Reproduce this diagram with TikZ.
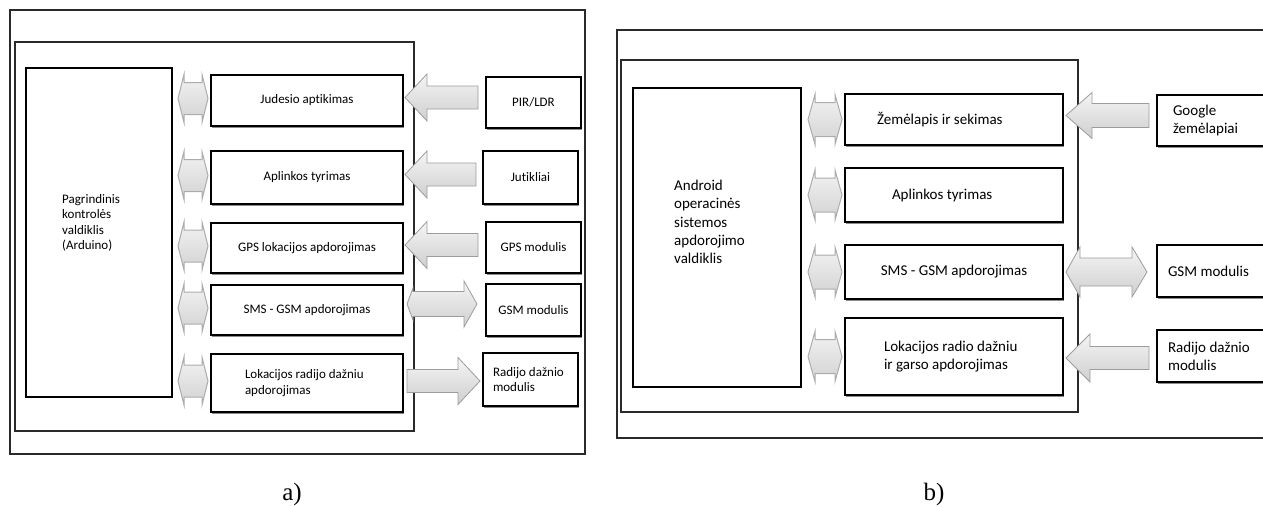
\documentclass[tikz,border=0pt]{standalone}
\usepackage{fontspec}
\setmainfont{Carlito}[Ligatures={NoCommon}]
\newfontfamily\capfont{Liberation Serif}
\usetikzlibrary{calc,shadows}

\definecolor{frame}{HTML}{2A2A2A}
\definecolor{arrowline}{HTML}{9C9C9C}

\tikzset{
  panel/.style={draw=frame, line width=2pt},
  innerpanel/.style={draw=frame, line width=1.6pt},
  ctrlbox/.style={draw=black, line width=2.2pt, inner sep=0pt, outer sep=0pt},
  boxshadow/.style={drop shadow={shadow xshift=0.8pt, shadow yshift=-1.6pt, fill=black, opacity=0.45}},
  funcbox/.style={draw=black, fill=white, line width=2.3pt, inner sep=0pt, outer sep=0pt, align=center, boxshadow},
  srcbox/.style={draw=black, fill=white, line width=2.8pt, inner sep=0pt, outer sep=0pt, align=center, boxshadow},
  fa/.style={font=\fontsize{13}{15.5}\selectfont},
  fb/.style={font=\fontsize{15}{18.3}\selectfont},
  garrow/.style={draw=arrowline, line width=0.8pt, top color=gray!8, bottom color=gray!38, line join=miter},
  linkarrow/.style={draw=gray!65, line width=1pt, top color=gray!10, bottom color=gray!35, line join=miter},
  caption/.style={font=\capfont\fontsize{25}{28}\selectfont, anchor=base},
}

% arrow pointing left: #1 tip point, #2 tail point, #3 head length, #4 head half height, #5 shaft half height
\newcommand{\arrowToLeft}[5]{%
  \path[garrow] let \p1=#1, \p2=#2 in
    (\x1,\y1) -- (\x1+#3pt,\y1+#4pt) -- (\x1+#3pt,\y1+#5pt) -- (\x2,\y1+#5pt)
    -- (\x2,\y1-#5pt) -- (\x1+#3pt,\y1-#5pt) -- (\x1+#3pt,\y1-#4pt) -- cycle;}
% arrow pointing right: #1 tail point, #2 tip point, #3 head length, #4 head half height, #5 shaft half height
\newcommand{\arrowToRight}[5]{%
  \path[garrow] let \p1=#1, \p2=#2 in
    (\x1,\y1+#5pt) -- (\x2-#3pt,\y1+#5pt) -- (\x2-#3pt,\y1+#4pt) -- (\x2,\y1)
    -- (\x2-#3pt,\y1-#4pt) -- (\x2-#3pt,\y1-#5pt) -- (\x1,\y1-#5pt) -- cycle;}
% two-headed arrow: #1 left tip, #2 right tip, #3 left head length, #4 right head length,
% #5 left head half height, #6 right head half height, #7 shaft half height, #8 style
\newcommand{\arrowBoth}[8]{%
  \path[#8] let \p1=#1, \p2=#2 in
    (\x1,\y1) -- (\x1+#3pt,\y1+#5pt) -- (\x1+#3pt,\y1+#7pt) -- (\x2-#4pt,\y1+#7pt)
    -- (\x2-#4pt,\y1+#6pt) -- (\x2,\y1) -- (\x2-#4pt,\y1-#6pt) -- (\x2-#4pt,\y1-#7pt)
    -- (\x1+#3pt,\y1-#7pt) -- (\x1+#3pt,\y1-#5pt) -- cycle;}

\begin{document}
\begin{tikzpicture}[x=1pt, y=-1pt]
\useasboundingbox (0,0) rectangle (1263,506);
\clip (0,0) rectangle (1263,506);

% ---------------- a) Arduino based controller ----------------
\draw[panel] (10,10) rectangle (585,454);
\draw[innerpanel] (15,42) rectangle (414,431);

\node[ctrlbox, minimum width=146pt, minimum height=329pt] (ctlA) at (99,232.5) {};
\node[fa, anchor=north west, align=flush left, inner sep=0pt] (ctlAtxt) at (62,194)
  {Pagrindinis\\kontrolės\\valdiklis\\(Arduino)};

\node[funcbox, fa, minimum width=192pt, minimum height=51pt] (fa1) at (307,100.5) {Judesio aptikimas};
\node[funcbox, fa, minimum width=192pt, minimum height=53pt] (fa2) at (307,177.5) {Aplinkos tyrimas};
\node[funcbox, fa, minimum width=192pt, minimum height=50pt] (fa3) at (307,248) {GPS lokacijos apdorojimas};
\node[funcbox, fa, minimum width=192pt, minimum height=50pt] (fa4) at (307,310) {SMS - GSM apdorojimas};
\node[funcbox, fa, minimum width=192pt, minimum height=58pt, text width=124pt, align=flush left] (fa5) at (307,383)
  {Lokacijos radijo dažniu\\apdorojimas};

\node[srcbox, fa, minimum width=95pt, minimum height=51pt] (ra1) at (533.5,102.5) {PIR/LDR};
\node[srcbox, fa, minimum width=95pt, minimum height=53pt] (ra2) at (530.5,177.5) {Jutikliai};
\node[srcbox, fa, minimum width=95pt, minimum height=51pt] (ra3) at (533.5,247.5) {GPS modulis};
\node[srcbox, fa, minimum width=95pt, minimum height=52pt] (ra4) at (533.5,310) {GSM modulis};
\node[srcbox, fa, minimum width=95pt, minimum height=53pt, text width=75pt, align=flush left] (ra5) at (530.5,379.5)
  {Radijo dažnio\\modulis};

% links between the controller and the processing blocks
\foreach \f in {fa1,fa2,fa3,fa4,fa5}{
  \arrowBoth{($(ctlA.east |- \f.west)+(6,-2)$)}{($(\f.west)+(-3,-2)$)}{6}{6}{24}{24}{16}{linkarrow}
}

% data flow between the processing blocks and the peripherals
\arrowToLeft{($(fa1.east)+(2,-3)$)}{($(ra1.west)+(-8,0)$)}{22}{23.5}{11.5}
\arrowToLeft{($(fa2.east)+(2,-3)$)}{($(ra2.west)+(-7,0)$)}{22}{23.5}{11.5}
\arrowToLeft{($(fa3.east)+(2,-3)$)}{($(ra3.west)+(-8,0)$)}{22}{23.5}{11.5}
\arrowBoth{($(fa4.east)+(4,-6)$)}{($(ra4.west)+(-9,-6)$)}{6}{13}{16}{23}{12.5}{garrow}
\arrowToRight{($(fa5.east)+(4,-2)$)}{($(ra5.west)+(-3,0)$)}{22}{23.5}{11.5}

\node[caption] (capA) at (292,500) {a)};

% ---------------- b) Android based controller ----------------
\draw[panel] (617,30) rectangle (1290,438);
\draw[innerpanel] (621,60) rectangle (1078,412);

\node[ctrlbox, minimum width=168pt, minimum height=299pt] (ctlB) at (717,237.5) {};
\node[fb, anchor=north west, align=flush left, inner sep=0pt] (ctlBtxt) at (674,180)
  {Android\\operacinės\\sistemos\\apdorojimo\\valdiklis};

\node[funcbox, fb, minimum width=218pt, minimum height=51pt, text width=154pt, align=flush left] (fb1) at (954,119.5) {Žemėlapis ir sekimas};
\node[funcbox, fb, minimum width=218pt, minimum height=54pt, text width=124pt, align=flush left] (fb2) at (954,195) {Aplinkos tyrimas};
\node[funcbox, fb, minimum width=218pt, minimum height=54pt] (fb3) at (954,272) {SMS - GSM apdorojimas};
\node[funcbox, fb, minimum width=218pt, minimum height=77pt, text width=140pt, align=flush left] (fb4) at (954,356.5)
  {Lokacijos radio dažniu\\ir garso apdorojimas};

\node[srcbox, fb, minimum width=130pt, minimum height=51pt, text width=98pt, align=flush left] (rb1) at (1222,120.5)
  {Google\\žemėlapiai};
\node[srcbox, fb, minimum width=130pt, minimum height=52pt, text width=108pt, align=flush left] (rb2) at (1222,271)
  {GSM modulis};
\node[srcbox, fb, minimum width=130pt, minimum height=52pt, text width=108pt, align=flush left] (rb3) at (1222,356)
  {Radijo dažnio\\modulis};

\foreach \f in {fb1,fb2,fb3,fb4}{
  \arrowBoth{($(ctlB.east |- \f.west)+(7,0)$)}{($(\f.west)+(-3,0)$)}{7}{7}{25}{25}{17}{linkarrow}
}

\arrowToLeft{($(fb1.east)+(3,-4)$)}{($(rb1.west)+(-8,0)$)}{26}{23}{12}
\arrowBoth{($(fb3.east)+(3,0)$)}{($(rb2.west)+(-10,0)$)}{14}{15}{25}{25}{14}{garrow}
\arrowToLeft{($(fb4.east)+(3,1.5)$)}{($(rb3.west)+(-8,0)$)}{24}{24}{11.5}

\node[caption] (capB) at (934,500) {b)};
\end{tikzpicture}
\end{document}
